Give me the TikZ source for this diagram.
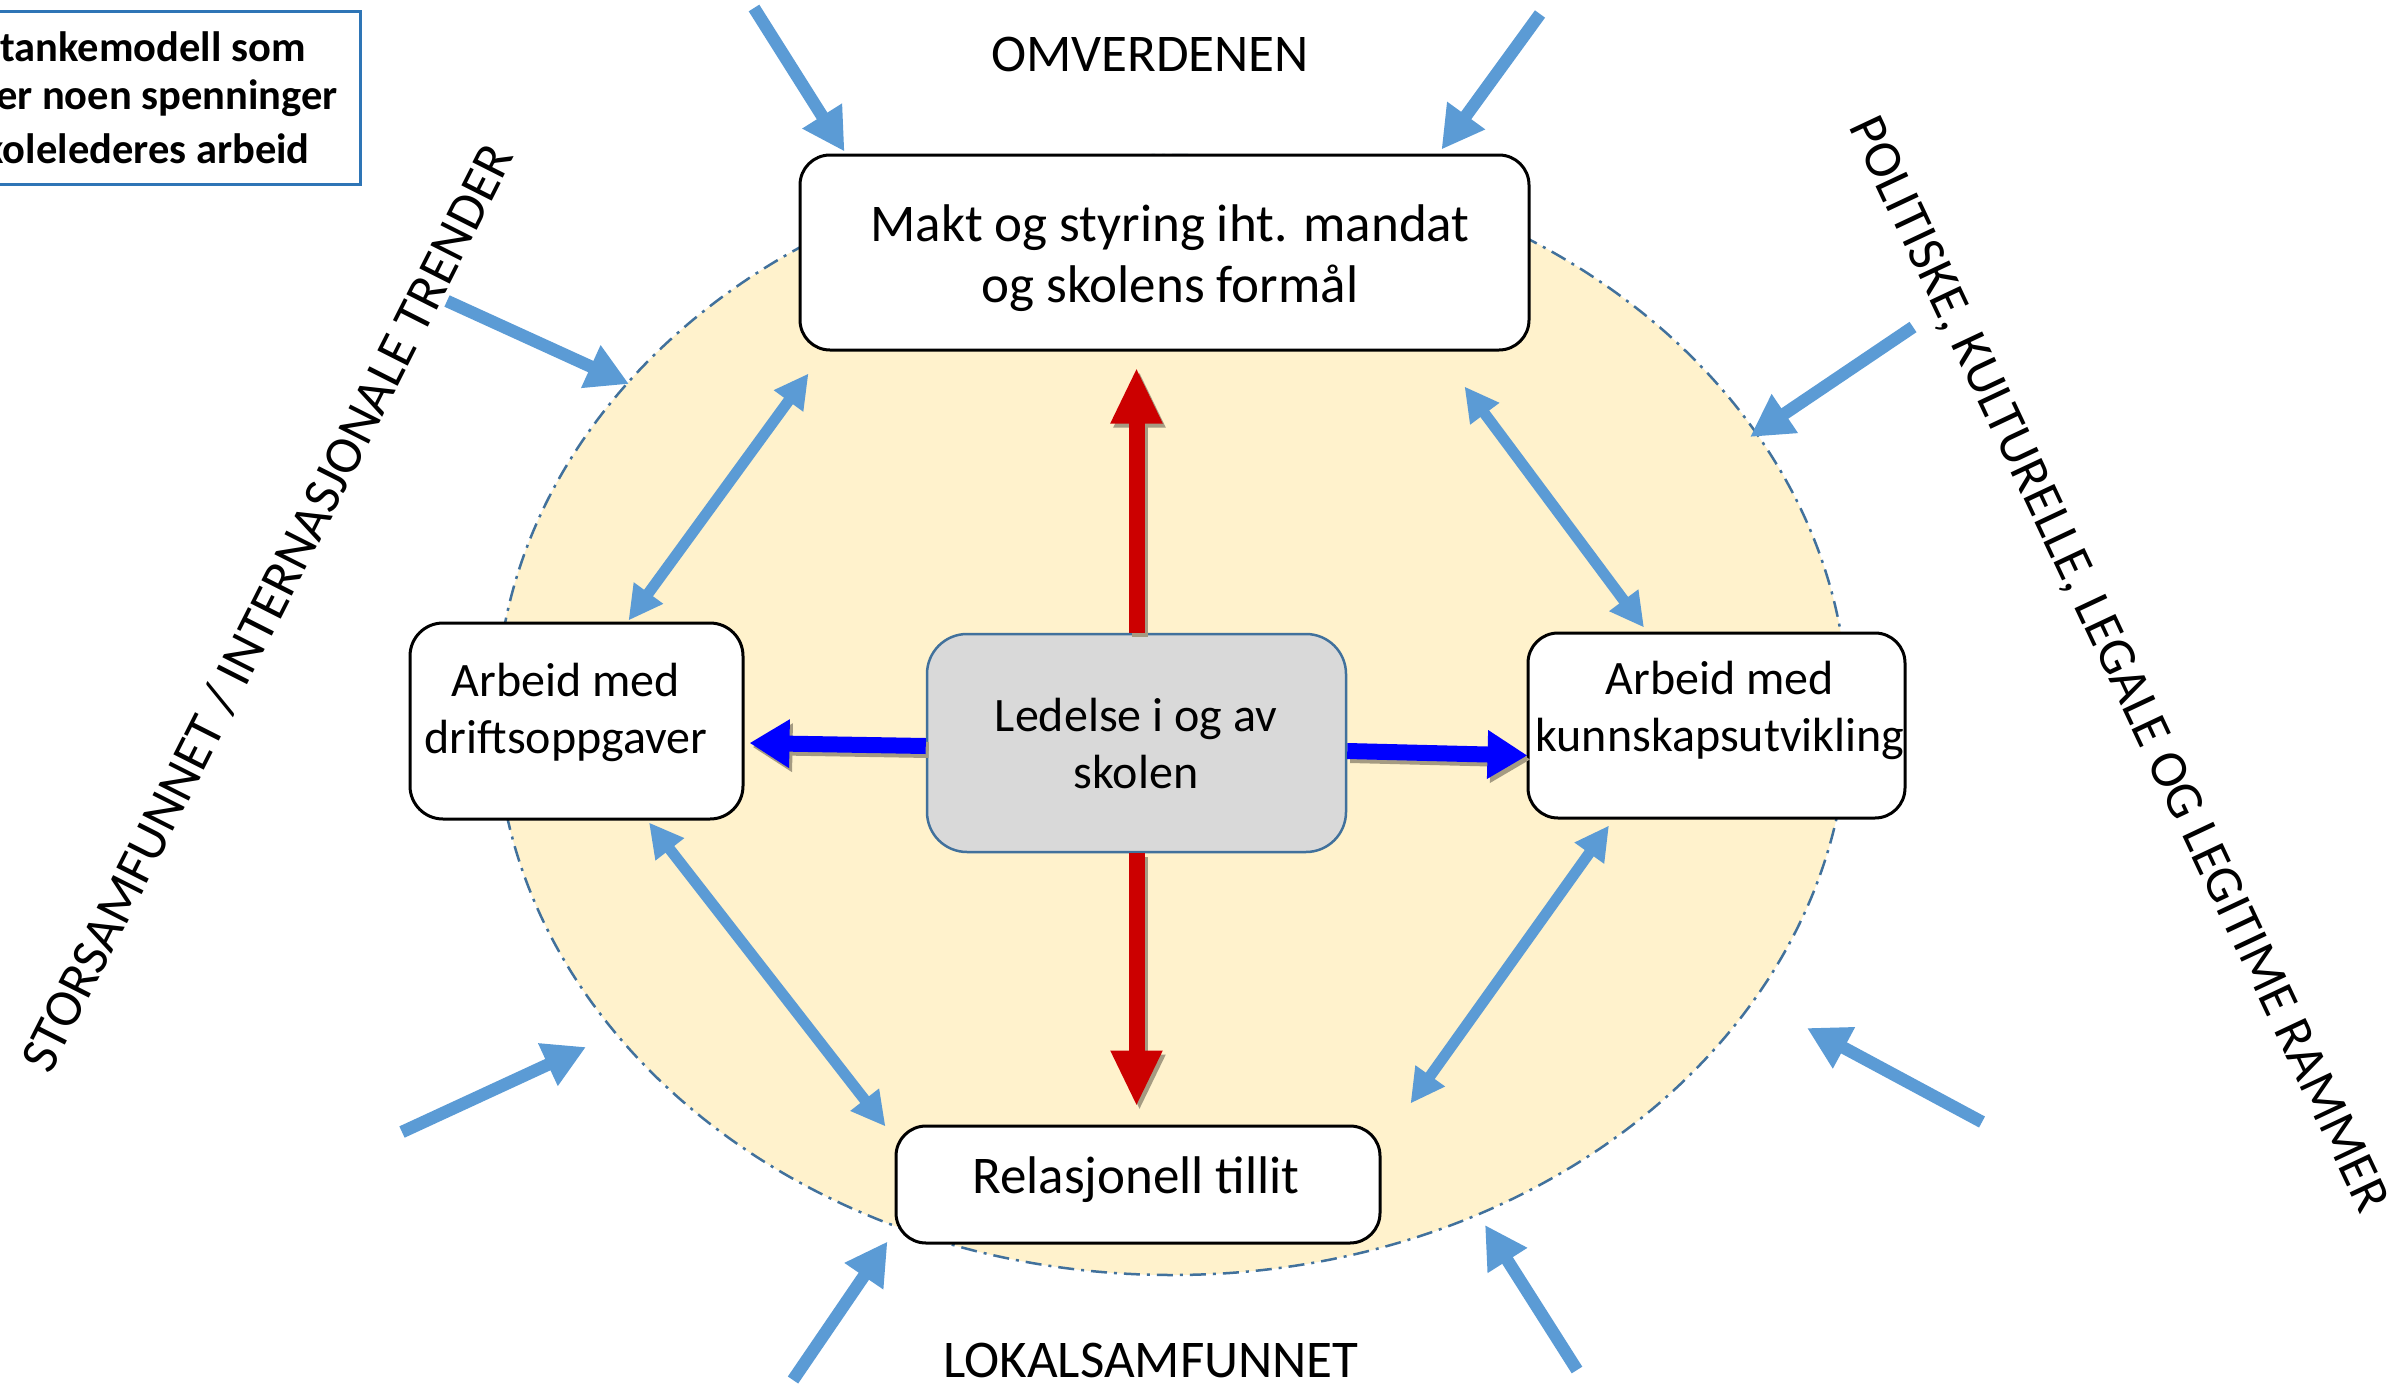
\documentclass[tikz,border=0pt]{standalone}
\usepackage{fontspec}
\setmainfont{Carlito}
\usetikzlibrary{arrows.meta,calc}
\definecolor{lb}{HTML}{5B9BD5}
\definecolor{rd}{HTML}{CC0000}
\definecolor{bl}{HTML}{0000FF}
\definecolor{ellfill}{HTML}{FFF2CC}
\definecolor{ellline}{HTML}{41719C}
\definecolor{ctrfill}{HTML}{D9D9D9}
\definecolor{titleline}{HTML}{2E75B6}
\definecolor{shadowc}{RGB}{165,155,130}
\begin{document}
\begin{tikzpicture}[x=1pt,y=-1pt,
  box/.style={draw=black, line width=3pt, fill=white, rounded corners=30pt, inner sep=0pt},
  lbl/.style={inner sep=0pt, align=center, font=\fontsize{48pt}{57pt}\selectfont},
  big/.style={inner sep=0pt, align=center, font=\fontsize{53pt}{61pt}\selectfont},
  ttl/.style={inner sep=0pt, anchor=base east, font=\fontsize{42.5pt}{50pt}\selectfont\bfseries},
  dbl/.style={draw=lb, line width=11pt, {Triangle[length=34pt,width=34pt]}-{Triangle[length=34pt,width=34pt]}},
  ext/.style={draw=lb, line width=12.5pt, -{Triangle[length=42pt,width=44pt]}},
  redarr/.style={draw=rd, line width=16pt, -{Triangle[length=56pt,width=48pt]}},
  bluarr/.style={draw=bl, line width=16pt, -{Triangle[length=40pt,width=46pt]}},
  shadowed/.style={draw=shadowc, transform canvas={shift={(3pt,-4pt)}}}
]
\useasboundingbox (0,0) rectangle (2407,1397);
\fill[white] (0,0) rectangle (2407,1397);

% ellipse
\draw[fill=ellfill, draw=ellline, line width=2.5pt, dash pattern=on 16pt off 7pt on 3pt off 7pt]
  (1172,715) ellipse [x radius=676pt, y radius=560pt];

% title box (cut at left edge)
\node[draw=titleline, line width=3pt, fill=white, minimum width=380pt, minimum height=173pt, inner sep=0pt] (titlebox) at (170,98) {};
\node[ttl] (t1) at (306,62) {tankemodell som};
\node[ttl] (t2) at (338,110) {er noen spenninger};
\node[ttl] (t3) at (310,163) {kolelederes arbeid};

% boxes
\node[box, minimum width=729pt, minimum height=195pt] (top) at (1164.5,252.5) {};
\node[big] (toptext) at (1170,258) {Makt og styring iht. mandat\\og skolens formål};

\node[box, minimum width=333pt, minimum height=196pt, rounded corners=33pt] (drift) at (576.5,721) {};
\node[lbl] (drifttext) at (566,712.5) {Arbeid med\\driftsoppgaver};

\node[draw=ellline, line width=2.5pt, fill=ctrfill, rounded corners=40pt, minimum width=419pt, minimum height=218pt, inner sep=0pt] (ctr) at (1136.5,743) {};
\node[lbl] (ctrtext) at (1136,743.5) {Ledelse i og av\\skolen};

\node[box, minimum width=377pt, minimum height=185pt] (kunn) at (1716.5,725.5) {};
\node[lbl] (kunntext) at (1720,710.5) {Arbeid med\\kunnskapsutvikling};

\node[box, minimum width=484pt, minimum height=117pt] (rel) at (1138,1184.5) {};
\node[big, anchor=base] (reltext) at (1136,1193) {Relasjonell tillit};

% outside labels
\node[big, anchor=base] (omv) at (1150,72) {OMVERDENEN};
\node[big, anchor=base] (lok) at (1151,1377) {LOKALSAMFUNNET};
\node[big, rotate=63.2] (stor) at (267,608) {STORSAMFUNNET / INTERNASJONALE TRENDER};
\node[big, rotate=-64.8] (pol) at (2117,665) {POLITISKE, KULTURELLE, LEGALE OG LEGITIME RAMMER};

% red arrows (with shadow)
\draw[redarr, shadowed, shorten >=16pt] (ctr.north) -- (ctr.north |- top.south);
\draw[redarr, shorten >=16pt] (ctr.north) -- (ctr.north |- top.south);
\draw[redarr, shadowed, shorten >=18pt] (ctr.south) -- (ctr.south |- rel.north);
\draw[redarr, shorten >=18pt] (ctr.south) -- (ctr.south |- rel.north);

% blue arrows (with shadow)
\draw[bluarr, shadowed] ($(ctr.west)+(0,3)$) -- ($(drift.east)+(5,22)$);
\draw[bluarr] ($(ctr.west)+(0,3)$) -- ($(drift.east)+(5,22)$);
\draw[bluarr, shadowed] ($(ctr.east)+(0,8)$) -- ($(kunn.west)+(1,30)$);
\draw[bluarr] ($(ctr.east)+(0,8)$) -- ($(kunn.west)+(1,30)$);

% double arrows
\draw[dbl] ($(top.south west)+(10,22)$) -- ($(drift.north)+(52,-1)$);
\draw[dbl] ($(top.south east)+(-66,35)$) -- ($(kunn.north)+(-72.5,-4)$);
\draw[dbl] ($(drift.south)+(72.5,2)$) -- ($(rel.north west)+(-9,2)$);
\draw[dbl] ($(kunn.south)+(-107.5,6)$) -- ($(rel.north east)+(29,-21)$);

% external arrows
\coordinate (a0) at (754,8);
\coordinate (b0) at (1540,14);
\coordinate (c0) at (447,301);  \coordinate (c1) at (629,384);
\coordinate (d0) at (402,1132); \coordinate (d1) at (586,1047);
\coordinate (e0) at (793,1380);
\coordinate (f0) at (1577,1370); \coordinate (f1) at (1485,1225);
\coordinate (g0) at (1913,327); \coordinate (g1) at (1750,437);
\coordinate (h0) at (1982,1122); \coordinate (h1) at (1807,1028);
\draw[ext] (a0) -- ($(top.north west)+(46,-2)$);
\draw[ext] (b0) -- ($(top.north east)+(-89,-4)$);
\draw[ext] (c0) -- (c1);
\draw[ext] (d0) -- (d1);
\draw[ext] (e0) -- ($(rel.south west)+(-7,-3)$);
\draw[ext] (f0) -- (f1);
\draw[ext] (g0) -- (g1);
\draw[ext] (h0) -- (h1);
\end{tikzpicture}
\end{document}
